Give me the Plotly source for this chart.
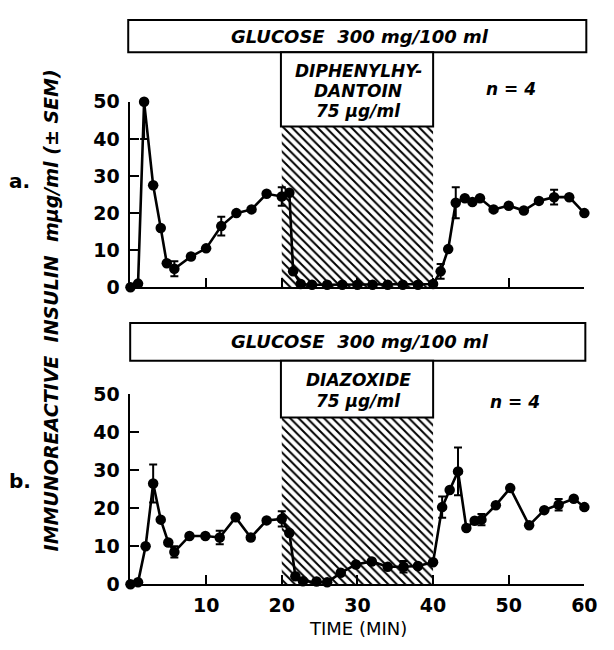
import plotly.graph_objects as go

# ---------------- data ----------------
# panel a: diphenylhydantoin
t_a = [0, 1, 1.8, 3, 4, 4.8, 5.8, 8, 10, 12, 14, 16, 18, 20, 21, 21.5, 22.5,
       24, 26, 28, 30, 32, 34, 36, 38, 40, 41, 42, 43, 44.2, 45.2, 46.2, 48,
       50, 52, 54, 56, 58, 60]
y_a = [0, 1, 50, 27.5, 16, 6.5, 5, 8.3, 10.5, 16.5, 20, 21, 25.2, 24.5, 25.5,
       4.3, 0.9, 0.7, 0.7, 0.7, 0.7, 0.7, 0.7, 0.7, 0.7, 0.9, 4.3, 10.3, 22.8,
       24, 23, 24, 21, 22, 20.7, 23.3, 24.3, 24.3, 20]
sem_t_a = [1.8, 5.8, 12, 20, 41, 43, 56]
sem_y_a = [50, 5, 16.5, 24.5, 4.3, 22.8, 24.3]
sem_e_a = [10, 2, 2.5, 2.5, 2, 4.2, 2]

# panel b: diazoxide
t_b = [0, 1, 2, 3, 4, 5, 5.8, 7.8, 9.9, 11.8, 13.9, 15.9, 18, 20, 21, 21.8,
       22.8, 24.6, 26, 27.8, 29.8, 31.9, 34, 36.1, 38, 40, 41.2, 42.2, 43.3,
       44.4, 45.5, 46.4, 48.3, 50.2, 52.7, 54.7, 56.6, 58.6, 60]
y_b = [0, 0.5, 10, 26.5, 17, 11, 8.5, 12.7, 12.7, 12.3, 17.6, 12.3, 16.8, 17.2,
       13.5, 2.1, 0.8, 0.7, 0.5, 3, 5.2, 6, 4.6, 4.6, 4.8, 5.8, 20.3, 24.8,
       29.7, 14.8, 16.7, 17, 20.8, 25.3, 15.5, 19.5, 20.9, 22.5, 20.3]
sem_t_b = [3, 5.8, 11.8, 20, 36.1, 41.2, 43.3, 46.4, 56.6]
sem_y_b = [26.5, 8.5, 12.3, 17.2, 4.6, 20.3, 29.7, 17, 20.9]
sem_e_b = [5, 1.5, 1.8, 2, 1.5, 2.8, 6.3, 1.5, 1.5]

drug_start, drug_end = [20], [40]
hatch_top = [43.3, 44]

x_ticks = [10, 20, 30, 40, 50, 60]
y_ticks = [0, 10, 20, 30, 40, 50]

# --------------- layout geometry (paper) ---------------
W, H = 614, 650
XDOM = [133.3 / W, 597 / W]
YDOM_A = [1 - 286 / H, 1 - 94 / H]
YDOM_B = [1 - 593.3 / H, 1 - 396.7 / H]

FONT = "DejaVu Sans"

fig = go.Figure()

panels = [
    ("x", "y", t_a, y_a, sem_t_a, sem_y_a, sem_e_a, hatch_top[0]),
    ("x2", "y2", t_b, y_b, sem_t_b, sem_y_b, sem_e_b, hatch_top[1]),
]
for xa, ya, t, y, st, sy, se, htop in panels:
    mid = (drug_start[0] + drug_end[0]) / 2
    fig.add_trace(go.Bar(
        x=[mid], y=[htop], width=[drug_end[0] - drug_start[0]],
        xaxis=xa, yaxis=ya,
        marker=dict(color="white", line=dict(width=0),
                    pattern=dict(shape="\\", fgcolor="black", bgcolor="white",
                                 size=6, solidity=0.33, fillmode="replace")),
        showlegend=False, hoverinfo="skip"))
    fig.add_trace(go.Scatter(
        x=t, y=y, xaxis=xa, yaxis=ya, mode="lines+markers",
        line=dict(color="black", width=2.6),
        marker=dict(color="black", size=10.5),
        cliponaxis=False, showlegend=False))
    fig.add_trace(go.Scatter(
        x=st, y=sy, xaxis=xa, yaxis=ya, mode="markers",
        marker=dict(color="black", size=1, opacity=0),
        error_y=dict(type="data", array=se, color="black", thickness=2, width=4),
        cliponaxis=False, showlegend=False))

axis_common = dict(showline=True, linecolor="black", linewidth=2,
                   ticks="inside", ticklen=9, tickwidth=2, tickcolor="black",
                   showgrid=False, zeroline=False,
                   tickfont=dict(family=FONT, size=19, color="black", weight="bold"))

fig.update_layout(
    width=W, height=H, margin=dict(l=0, r=0, t=0, b=0),
    plot_bgcolor="white", paper_bgcolor="white",
    barmode="overlay",
    xaxis=dict(domain=XDOM, range=[0, 60], anchor="y", tickvals=x_ticks,
               showticklabels=False, **axis_common),
    yaxis=dict(domain=YDOM_A, range=[0, 50], anchor="x", tickvals=y_ticks,
               ticklabelstandoff=5, **axis_common),
    xaxis2=dict(domain=XDOM, range=[0, 60], anchor="y2", tickvals=x_ticks,
                ticklabelstandoff=3, **axis_common),
    yaxis2=dict(domain=YDOM_B, range=[0, 50], anchor="x2", tickvals=y_ticks,
                ticklabelstandoff=5, **axis_common),
)


def px(x, y):
    return x / W, 1 - y / H


def box(x0, y0, x1, y1):
    a, b = px(x0, y1)
    c, d = px(x1, y0)
    fig.add_shape(type="rect", xref="paper", yref="paper", x0=a, y0=b, x1=c, y1=d,
                  line=dict(color="black", width=2), fillcolor="white", layer="above")


def text(s, x, y, size=17, angle=0, bold=False):
    a, b = px(x, y)
    fig.add_annotation(xref="paper", yref="paper", x=a, y=b, text=s,
                       showarrow=False, textangle=angle,
                       font=dict(family=FONT, size=size, color="black",
                                 weight="bold" if bold else "normal"),
                       xanchor="center", yanchor="middle")


# panel a boxes
box(131, 9.3, 599, 42.7)
box(287, 42.7, 442.5, 119.5)
# panel b boxes
box(133, 323, 598, 362)
box(287, 362, 442.5, 420.7)

text("<i>GLUCOSE  300 mg/100 ml</i>", 368, 26, size=18, bold=True)
text("<i>DIPHENYLHY-</i>", 366, 62, size=17, bold=True)
text("<i>DANTOIN</i>", 366, 83, size=17, bold=True)
text("<i>75 μg/ml</i>", 366, 104, size=17, bold=True)
text("<i>n = 4</i>", 522, 81, size=17, bold=True)

text("<i>GLUCOSE  300 mg/100 ml</i>", 368, 342, size=18, bold=True)
text("<i>DIAZOXIDE</i>", 366, 382, size=17, bold=True)
text("<i>75 μg/ml</i>", 366, 404, size=17, bold=True)
text("<i>n = 4</i>", 526, 405, size=17, bold=True)

text("<i>IMMUNOREACTIVE  INSULIN  mμg/ml (± SEM)</i>", 52, 310, size=19,
     angle=-90, bold=True)
text("a.", 20, 176, size=20, bold=True)
text("b.", 20, 486, size=20, bold=True)
text("TIME (MIN)", 366, 639, size=18)

fig.write_html("out.html")
